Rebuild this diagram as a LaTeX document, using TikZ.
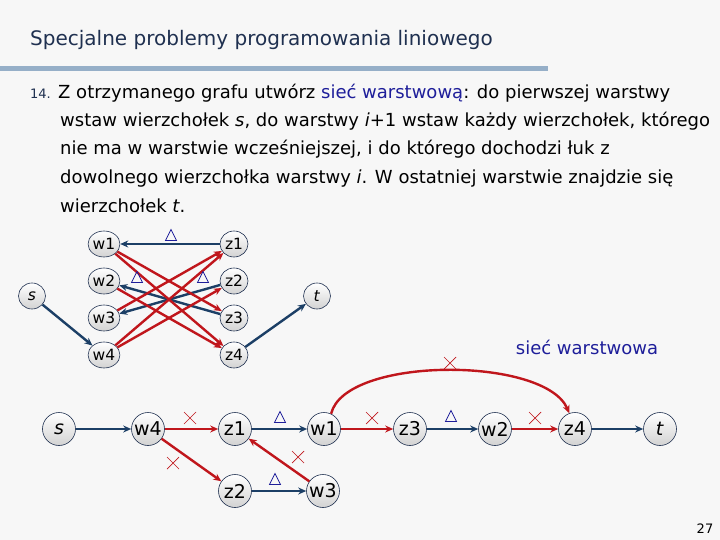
\documentclass[tikz,border=0pt]{standalone}
\usepackage{fontspec}
\setmainfont{DejaVu Sans}
\usetikzlibrary{arrows.meta,shapes.geometric}
\definecolor{bg}{HTML}{F7F7F7}
\definecolor{barc}{HTML}{96AFC8}
\definecolor{ttl}{HTML}{1F3050}
\definecolor{eblue}{HTML}{1C3F66}
\definecolor{ered}{HTML}{C0161C}
\definecolor{tblue}{HTML}{1E1E9A}
\begin{document}
\begin{tikzpicture}[x=1pt,y=-1pt,
  vtx/.style={ellipse,draw=ttl,line width=0.6pt,top color=white,bottom color=gray!35,
    minimum width=28pt,minimum height=26pt,inner sep=0pt,font=\fontsize{15.5}{15.5}\selectfont},
  bvtx/.style={vtx,circle,minimum size=33pt,font=\fontsize{19}{19}\selectfont},
  be/.style={draw=eblue,line width=2.4pt,-{Stealth[length=8pt,width=7pt]}},
  re/.style={be,draw=ered},
  tri/.pic={\draw[tblue,line width=0.8pt,line join=miter] (-5.5,4.5)--(5.5,4.5)--(0,-6.5)--cycle;},
  crs/.pic={\draw[ered,line width=0.7pt] (-6,-6)--(6,6) (-6,6)--(6,-6);},
  body/.style={anchor=base west,inner sep=0pt,font=\fontsize{18}{18}\selectfont,text=black}]
\useasboundingbox (0,0) rectangle (720,540);
\fill[bg] (0,0) rectangle (720,540);
\fill[barc] (0,66) rectangle (548,71);
\node[anchor=base west,inner sep=0pt,text=ttl,font=\fontsize{20}{20}\selectfont] (title) at (30,46) {Specjalne problemy programowania liniowego};
\node[anchor=base west,inner sep=0pt,text=ttl,font=\fontsize{13}{13}\selectfont] (num) at (30,99) {14.};
\node[body] (l1) at (58,99) {Z otrzymanego grafu utwórz \textcolor{tblue}{sieć warstwową}: do pierwszej warstwy};
\node[body] (l2) at (60,127) {wstaw wierzchołek \textit{s}, do warstwy \textit{i}+1 wstaw każdy wierzchołek, którego};
\node[body] (l3) at (60,155) {nie ma w warstwie wcześniejszej, i do którego dochodzi łuk z};
\node[body] (l4) at (60,184) {dowolnego wierzchołka warstwy \textit{i}. W ostatniej warstwie znajdzie się};
\node[body] (l5) at (60,212) {wierzchołek \textit{t}.};

% top graph
\node[vtx] (tw1) at (104,244) {w1};
\node[vtx] (tw2) at (104,281) {w2};
\node[vtx] (tw3) at (104,318) {w3};
\node[vtx] (tw4) at (104,355) {w4};
\node[vtx] (tz1) at (234,244) {z1};
\node[vtx] (tz2) at (234,281) {z2};
\node[vtx] (tz3) at (234,318) {z3};
\node[vtx] (tz4) at (234,355) {z4};
\node[vtx,minimum width=27pt] (ts) at (32,296) {\textit{s}};
\node[vtx,minimum width=27pt] (tt) at (317,296) {\textit{t}};
\draw[be] (tz1) -- (tw1);
\draw[be] (tz3) -- (tw2);
\draw[be] (tz2) -- (tw3);
\draw[be] (ts) -- (tw4);
\draw[be] (tz4) -- (tt);
\draw[re] (tw1) -- (tz3);
\draw[re] (tw1) -- (tz4);
\draw[re] (tw2) -- (tz4);
\draw[re] (tw3) -- (tz1);
\draw[re] (tw4) -- (tz1);
\draw[re] (tw4) -- (tz2);
\pic at (171,236) {tri};
\pic at (137,278) {tri};
\pic at (203,278) {tri};

% bottom graph
\node[bvtx] (bs) at (59,429) {\textit{s}};
\node[bvtx] (bw4) at (148,429) {w4};
\node[bvtx] (bz1) at (235,429) {z1};
\node[bvtx] (bw1) at (324,429) {w1};
\node[bvtx] (bz3) at (410,429) {z3};
\node[bvtx] (bw2) at (495,429) {w2};
\node[bvtx] (bz4) at (575,429) {z4};
\node[bvtx] (bt) at (660,429) {\textit{t}};
\node[bvtx] (bz2) at (235,491) {z2};
\node[bvtx] (bw3) at (323,491) {w3};
\draw[be] (bs) -- (bw4);
\draw[re] (bw4) -- (bz1);
\draw[re] (bw4) -- (bz2);
\draw[be] (bz1) -- (bw1);
\draw[be] (bz2) -- (bw3);
\draw[re] (bw3) -- (bz1);
\draw[re] (bw1) -- (bz3);
\draw[be] (bz3) -- (bw2);
\draw[re] (bw2) -- (bz4);
\draw[be] (bz4) -- (bt);
\draw[re] (bw1.65) .. controls (345,356) and (545,356) .. (bz4.110);
\pic at (190,418) {crs};
\pic at (173,463) {crs};
\pic at (298,457) {crs};
\pic at (372,418) {crs};
\pic at (535,418) {crs};
\pic at (450,363) {crs};
\pic at (280,418) {tri};
\pic at (275,480) {tri};
\pic at (451,417) {tri};

\node[text=tblue,font=\fontsize{18}{18}\selectfont,inner sep=0pt] (lbl) at (587,347) {sieć warstwowa};
\node[font=\fontsize{13}{13}\selectfont,inner sep=0pt] (pg) at (705,529) {27};
\end{tikzpicture}
\end{document}
